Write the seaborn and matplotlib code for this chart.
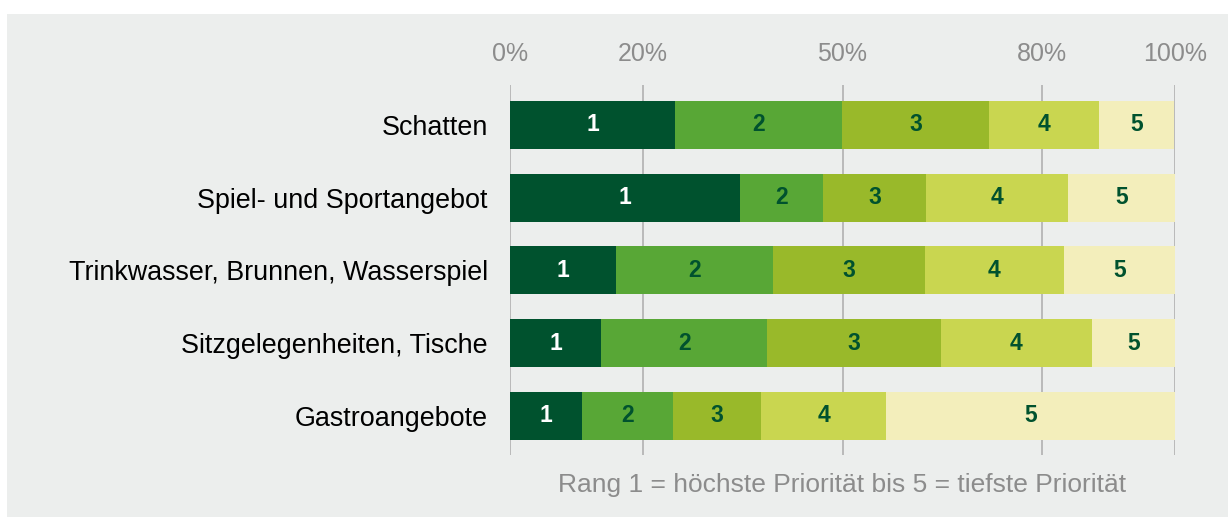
import numpy as np
import pandas as pd
import matplotlib
matplotlib.use("Agg")
import matplotlib.pyplot as plt
import seaborn as sns
from matplotlib import font_manager
from matplotlib.patches import Rectangle

# -----------------------------------------------------------------------------
# Daten: Anteile der Ränge 1-5 je Angebot (in %)
# -----------------------------------------------------------------------------
kategorien = ["Schatten", "Spiel- und Sportangebot", "Trinkwasser, Brunnen, Wasserspiel",
              "Sitzgelegenheiten, Tische", "Gastroangebote"]
rang1 = [24.8, 34.6, 15.9, 13.7, 10.8]
rang2 = [25.1, 12.5, 23.6, 25.0, 13.7]
rang3 = [22.2, 15.4, 22.9, 26.1, 13.3]
rang4 = [16.4, 21.4, 20.9, 22.7, 18.7]
rang5 = [11.4, 16.2, 16.7, 12.5, 43.5]
raenge = ["1", "2", "3", "4", "5"]
ticks = [0, 20, 50, 80, 100]

farben = ["#00522e", "#58a736", "#99b92a", "#c9d650", "#f3eebb"]
textfarben = ["white", "#00522e", "#00522e", "#00522e", "#00522e"]

df = pd.DataFrame({"1": rang1, "2": rang2, "3": rang3, "4": rang4, "5": rang5},
                  index=kategorien)
kum = df.cumsum(axis=1)

sns.set_theme(style="white")
plt.rcParams["font.family"] = ["Liberation Sans", "DejaVu Sans"]

# schmale Schrift für die Zahlen in den Balken, falls vorhanden
try:
    font_manager.findfont("Liberation Sans Narrow", fallback_to_default=False)
    zahlen_font = ["Liberation Sans Narrow", "Liberation Sans"]
except ValueError:
    zahlen_font = ["Liberation Sans"]

fig = plt.figure(figsize=(12.28, 5.17), dpi=100)
fig.patch.set_facecolor("white")
fig.patches.append(Rectangle((7 / 1228, 0), 1221 / 1228, 503 / 517,
                             transform=fig.transFigure, facecolor="#eceeed",
                             edgecolor="none", zorder=-10))
ax = fig.add_axes([510 / 1228, 1 - 455 / 517, 665 / 1228, 370 / 517])
ax.set_facecolor("none")

# gestapelte Balken: kumulierte Werte von hinten nach vorne zeichnen
for i in reversed(range(len(raenge))):
    r = raenge[i]
    sns.barplot(x=kum[r].values, y=kategorien, orient="h", color=farben[i],
                saturation=1, width=0.66, linewidth=0, ax=ax, zorder=2)

# Beschriftung in der Mitte jedes Segments
for i, r in enumerate(raenge):
    mitte = kum[r] - df[r] / 2
    for j, x in enumerate(mitte):
        ax.text(x, j, r, ha="center", va="center", fontsize=16.5,
                fontweight="bold", color=textfarben[i], family=zahlen_font,
                zorder=3)

ax.set_xlim(0, 100)
ax.set_ylim(4.54, -0.55)
ax.set_xticks(ticks)
ax.set_xticklabels([f"{t}%" for t in ticks])
ax.xaxis.tick_top()
ax.tick_params(axis="x", length=0, pad=14, labelsize=18, labelcolor="#8c8c8c")
ax.tick_params(axis="y", length=0, pad=16, labelsize=19.4, labelcolor="black")
ax.grid(axis="x", color="#b9b9b9", linewidth=1.4)
ax.set_axisbelow(True)
for s in ax.spines.values():
    s.set_visible(False)

ax.set_xlabel("Rang 1 = höchste Priorität bis 5 = tiefste Priorität",
              fontsize=19, color="#8c8c8c", labelpad=13)
ax.xaxis.set_label_position("bottom")
ax.set_ylabel("")

plt.savefig("out.png", dpi=100, facecolor=fig.get_facecolor())
plt.close()
